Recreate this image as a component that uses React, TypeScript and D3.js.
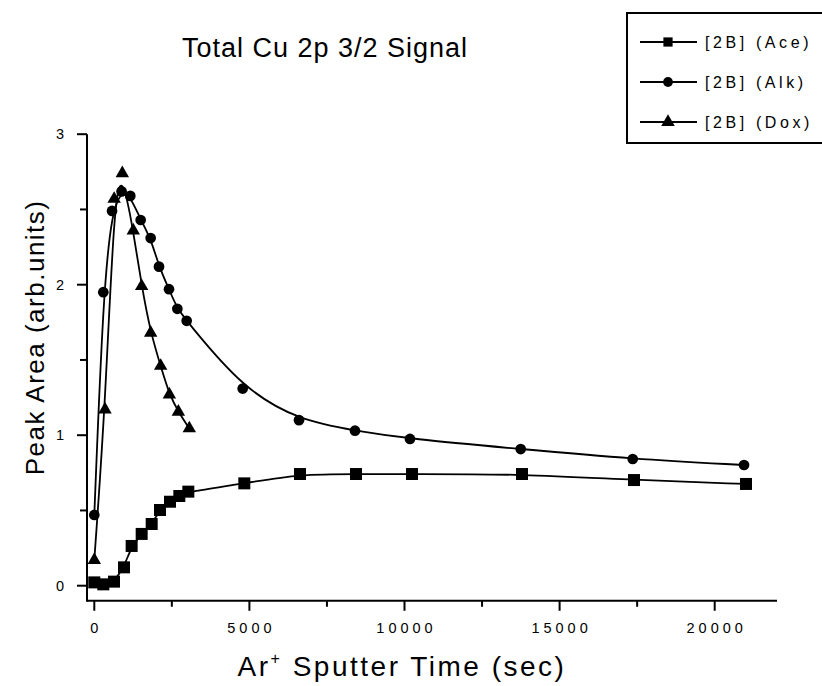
import React from "react";
import * as d3 from "d3";

const aceTime = [0, 290, 635, 957, 1204, 1527, 1850, 2118, 2440, 2741, 3031, 4836, 6631, 8436, 10241, 13788, 17399, 21009];
const aceVal = [0.022, 0.009, 0.027, 0.122, 0.264, 0.344, 0.41, 0.503, 0.558, 0.596, 0.625, 0.68, 0.742, 0.742, 0.742, 0.742, 0.702, 0.676];

const alkTime = [0, 290, 571, 880, 1160, 1495, 1817, 2086, 2408, 2677, 2978, 4784, 6599, 8404, 10177, 13746, 17357, 20945];
const alkVal = [0.47, 1.95, 2.49, 2.62, 2.59, 2.43, 2.31, 2.12, 1.97, 1.84, 1.76, 1.31, 1.1, 1.03, 0.975, 0.908, 0.842, 0.802];

const doxTime = [0, 345, 640, 903, 1257, 1527, 1817, 2140, 2420, 2710, 3063];
const doxVal = [0.17, 1.17, 2.57, 2.74, 2.36, 1.99, 1.68, 1.46, 1.27, 1.155, 1.045];

const seriesNames = ["[2B] (Ace)", "[2B] (Alk)", "[2B] (Dox)"];
const xMajor = [0, 5000, 10000, 15000, 20000];
const xMinor = [2500, 7500, 12500, 17500];
const yMajor = [0, 1, 2, 3];
const yMinor = [0.5, 1.5, 2.5];

const FONT = "'Liberation Sans', Arial, Helvetica, sans-serif";

export default function App() {
  const x = d3.scaleLinear().domain([0, 20000]).range([94.3, 714.7]);
  const y = d3.scaleLinear().domain([0, 3]).range([585.7, 134.2]);
  const axisX0 = x(-235);
  const axisX1 = x(22010);
  const axisY0 = y(-0.1);
  const axisY1 = y(3);

  const series = [
    { name: seriesNames[0], pts: aceTime.map((t, i) => [t, aceVal[i]] as [number, number]), sym: d3.symbolSquare, size: 144, lsize: 85 },
    { name: seriesNames[1], pts: alkTime.map((t, i) => [t, alkVal[i]] as [number, number]), sym: d3.symbolCircle, size: 90, lsize: 75 },
    { name: seriesNames[2], pts: doxTime.map((t, i) => [t, doxVal[i]] as [number, number]), sym: d3.symbolTriangle, size: 78, lsize: 80 },
  ];

  const line = d3
    .line<[number, number]>()
    .x((d) => x(d[0]))
    .y((d) => y(d[1]))
    .curve(d3.curveBasis);

  return (
    <svg
      width={822}
      height={686}
      style={{ position: "absolute", left: 0, top: 0, background: "#fff" }}
      fontFamily={FONT}
    >
      <rect x={0} y={0} width={822} height={686} fill="#fff" />
      {/* title */}
      <text x={325} y={57} fontSize={27} textAnchor="middle" letterSpacing={1}>
        Total Cu 2p 3/2 Signal
      </text>

      {/* axes */}
      <line x1={axisX0} x2={axisX1} y1={axisY0} y2={axisY0} stroke="#000" strokeWidth={2} />
      <line x1={axisX0} x2={axisX0} y1={axisY0 + 1} y2={axisY1} stroke="#000" strokeWidth={2} />
      {xMajor.map((t) => (
        <g key={"xm" + t}>
          <line x1={x(t)} x2={x(t)} y1={axisY0} y2={axisY0 + 10} stroke="#000" strokeWidth={2} />
          <text x={x(t) + 2} y={633} fontSize={14.5} textAnchor="middle" letterSpacing={4}>
            {t}
          </text>
        </g>
      ))}
      {xMinor.map((t) => (
        <line key={"xn" + t} x1={x(t)} x2={x(t)} y1={axisY0} y2={axisY0 + 6} stroke="#000" strokeWidth={2} />
      ))}
      {yMajor.map((t) => (
        <g key={"ym" + t}>
          <line x1={axisX0} x2={axisX0 - 10} y1={y(t)} y2={y(t)} stroke="#000" strokeWidth={2} />
          <text x={60} y={y(t) + 5} fontSize={14.5} textAnchor="middle">
            {t}
          </text>
        </g>
      ))}
      {yMinor.map((t) => (
        <line key={"yn" + t} x1={axisX0} x2={axisX0 - 7} y1={y(t)} y2={y(t)} stroke="#000" strokeWidth={2} />
      ))}

      {/* axis titles */}
      <text
        transform={`translate(44, ${y(1.65)}) rotate(-90)`}
        fontSize={26}
        textAnchor="middle"
        letterSpacing={1.5}
      >
        Peak Area (arb.units)
      </text>
      <text x={402} y={676} fontSize={28} textAnchor="middle" letterSpacing={2.5}>
        Ar
        <tspan fontSize={16} dy={-12}>+</tspan>
        <tspan dy={12}> Sputter Time (sec)</tspan>
      </text>

      {/* series */}
      {series.map((s) => (
        <g key={s.name}>
          <path d={line(s.pts) || ""} fill="none" stroke="#000" strokeWidth={1.8} />
          {s.pts.map((p, i) => (
            <path
              key={i}
              d={d3.symbol().type(s.sym).size(s.size)() || ""}
              transform={`translate(${x(p[0])},${y(p[1])})`}
              fill="#000"
            />
          ))}
        </g>
      ))}

      {/* legend */}
      <rect x={627} y={13} width={210} height={130} fill="#fff" stroke="#000" strokeWidth={2} />
      {series.map((s, i) => {
        const ly = 42 + i * 40;
        return (
          <g key={"lg" + i}>
            <line x1={640} x2={697} y1={ly} y2={ly} stroke="#000" strokeWidth={2} />
            <path d={d3.symbol().type(s.sym).size(s.lsize)() || ""} transform={`translate(668,${ly})`} fill="#000" />
            <text x={705} y={ly + 6} fontSize={16} letterSpacing={3.6}>
              {s.name}
            </text>
          </g>
        );
      })}
    </svg>
  );
}
